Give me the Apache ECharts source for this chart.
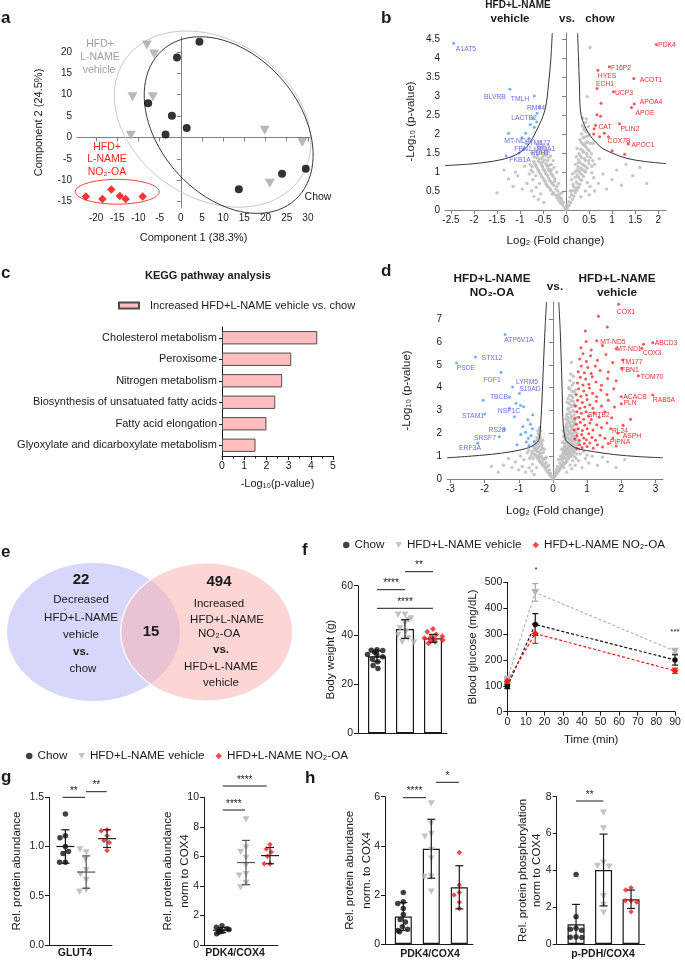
<!DOCTYPE html>
<html><head><meta charset="utf-8"><title>Figure</title>
<script src="https://cdn.jsdelivr.net/npm/echarts@6.0.0/dist/echarts.min.js"></script>
<style>html,body{margin:0;padding:0;background:#fff;}#chart{width:685px;height:962px;}</style>
</head><body><div id="chart"></div>
<script>
// ================= DATA =================
// a: PCA scores [component1, component2]
const pcaChow = [[4.4,22.4],[-0.9,18.7],[-7.7,8.0],[-2.1,5.1],[1.4,2.2],[-3.6,0.7],[13.7,-12.1],[23.9,-8.5],[29.5,-7.3]];
const pcaVehicle = [[-8.0,21.6],[-6.3,19.5],[-11.4,9.5],[-6.6,9.5],[-11.8,0.5],[19.8,1.7],[28.7,-1.2],[21.0,-10.7]];
const pcaNO2 = [[-22.4,-13.8],[-18.5,-14.4],[-16.4,-12.2],[-14.4,-13.7],[-13.0,-14.4],[-9.0,-13.8]];
// group ellipses [centre c1, centre c2, semi-axis a, semi-axis b, angle deg] (vehicle, chow, NO2-OA)
const pcaEllipses = [[7.5,4.3,24.9,18.5,-33],[11.3,2.9,23.5,16.5,-48],[-15.0,-12.7,9.9,2.9,0]];
const pcaXTicks = [-20,-15,-10,-5,0,5,10,15,20,25,30];
const pcaYTicks = [-15,-10,-5,0,5,10,15,20];

// b: volcano vehicle vs chow [log2 FC, -log10 p]
const bGray = [[0,0],[0.03,0.06],[-0.04,0.08],[0.07,0.12],[-0.08,0.14],[0.1,0.2],[-0.12,0.18],[-0.16,0.25],[0.14,0.28],[-0.2,0.32],[0.17,0.36],[-0.24,0.4],[0.2,0.45],[-0.28,0.46],[-0.14,0.42],[0.24,0.52],[-0.33,0.52],[-0.22,0.55],[0.27,0.6],[-0.38,0.6],[-0.27,0.65],[0.16,0.62],[0.3,0.68],[-0.43,0.68],[-0.33,0.74],[0.22,0.74],[0.34,0.78],[-0.48,0.78],[-0.38,0.84],[-0.25,0.82],[0.27,0.86],[0.38,0.88],[-0.53,0.88],[-0.43,0.94],[-0.3,0.92],[0.31,0.96],[0.42,1.0],[-0.58,0.98],[-0.47,1.04],[-0.35,1.02],[0.2,1.0],[0.35,1.06],[0.46,1.1],[-0.62,1.08],[-0.51,1.14],[-0.4,1.12],[0.26,1.14],[0.38,1.18],[0.5,1.22],[-0.66,1.18],[-0.55,1.24],[-0.44,1.22],[-0.32,1.2],[0.3,1.26],[0.42,1.3],[-0.7,1.28],[-0.58,1.34],[-0.47,1.32],[0.34,1.38],[0.46,1.42],[-0.62,1.44],[-0.5,1.42],[-0.38,1.38],[0.28,1.48],[0.38,1.52],[0.5,1.56],[-0.66,1.54],[-0.54,1.52],[-0.43,1.5],[0.32,1.6],[0.43,1.66],[-0.58,1.62],[-0.47,1.62],[0.36,1.74],[0.46,1.8],[-0.62,1.72],[-0.5,1.72],[0.3,1.85],[0.4,1.92],[-0.55,1.8],[0.34,2.0],[0.44,2.06],[0.38,2.16],[0.42,2.3],[0.36,2.42],[0.46,2.98],[0.52,4.28],[-0.75,0.5],[-0.85,0.7],[-0.95,0.55],[-1.05,0.9],[-1.15,0.62],[-0.8,0.95],[-0.9,1.15],[-1.25,0.82],[-1.35,1.05],[-1.1,1.0],[-1.5,0.45],[-0.7,0.36],[-0.6,0.28],[-0.48,0.2],[0.32,0.35],[0.42,0.5],[0.52,0.62],[0.6,0.85],[0.7,0.7],[0.8,0.95],[0.88,0.55],[1.0,0.8],[1.1,1.05],[1.2,0.65],[1.3,1.2],[1.45,0.9],[1.6,1.12],[1.75,0.7],[0.62,1.2],[0.72,1.35],[0.55,1.48],[0.58,1.75],[0.12,0.5],[0.08,0.34],[-0.1,0.3],[-0.18,0.5],[-0.16,0.7],[0.12,0.8],[0.14,0.95],[-0.2,1.0],[-0.26,1.12],[0.2,1.2],[-0.72,0.8],[-0.76,1.05],[-0.78,1.2],[-0.68,1.62],[0.24,1.62],[0.52,1.38],[-0.4,1.72],[0.5,0.4],[0.62,0.5],[-0.55,0.42],[-0.65,0.6],[-0.58,0.7],[0.46,0.72],[0.56,0.98],
 [-0.06,0.2],[0.06,0.22],[-0.1,0.24],[0.12,0.4],[-0.19,0.38],[-0.3,0.42],[0.22,0.58],[-0.35,0.56],[-0.41,0.64],[-0.31,0.7],[0.25,0.7],[0.31,0.8],[-0.45,0.74],[-0.36,0.78],[-0.5,0.84],[-0.4,0.9],[0.24,0.92],[0.35,0.92],[-0.55,0.94],[-0.45,0.98],[-0.33,0.96],[0.28,1.02],[0.39,1.04],[-0.6,1.04],[-0.5,1.08],[-0.38,1.06],[0.32,1.1],[0.43,1.14],[-0.64,1.13],[-0.53,1.18],[-0.42,1.17],[0.35,1.2],[-0.68,1.22],[-0.6,1.28],[-0.5,1.27],[-0.4,1.3],[0.27,1.32],[0.4,1.35],[0.49,1.3],[-0.64,1.38],[-0.53,1.36],[-0.44,1.44],[0.31,1.42],[0.44,1.48],[-0.6,1.5],[-0.48,1.48],[0.36,1.56],[0.47,1.6],[-0.56,1.58],[-0.45,1.56],[0.39,1.7],[-0.6,1.66],[-0.52,1.66],[0.33,1.78],[0.43,1.76],[-0.57,1.76],[0.37,1.9],[0.46,1.94],[0.4,2.1],[0.35,2.22],[0.44,2.4],[-0.2,0.62],[-0.25,0.75],[0.18,0.52],[0.15,0.68],[-0.28,0.88],[0.2,0.86],[-0.32,1.06],[0.24,1.06],[-0.36,1.18],[-0.28,1.3],[-0.34,1.42],[-0.38,1.54],[0.26,1.24],[0.22,1.4],[-0.02,0.03],[0.02,0.13],[-0.14,0.33],[-0.09,0.45],[0.09,0.5],[-0.66,0.9],[-0.72,1.0],[-0.74,1.14],[-0.7,1.4],[-0.74,1.5],[0.56,1.15],[0.58,1.3],[0.52,1.75],[0.5,1.98],[0.48,2.2]];
const bBlue = [[-2.44,4.39],[-1.22,3.18],[-0.69,3.0],[-0.58,2.72],[-0.63,2.55],[-0.72,2.42],[-0.64,2.32],[-0.78,2.25],[-0.69,2.18],[-1.25,2.02],[-0.96,1.9],[-0.8,1.88],[-0.86,1.75],[-0.92,1.6],[-1.02,1.5],[-1.3,1.42],[-0.88,2.02]];
const bRed = [[1.96,4.36],[0.94,3.77],[0.69,3.68],[1.47,3.46],[0.67,3.2],[1.03,3.11],[0.76,2.81],[1.48,2.79],[1.42,2.7],[0.67,2.51],[0.75,2.47],[1.16,2.27],[0.64,2.23],[0.61,2.14],[0.83,2.02],[0.6,2.0],[0.73,1.93],[0.92,1.93],[1.35,1.74],[1.0,1.56],[1.27,1.47]];
const bCurveL = [[-2.63,1.17],[-2.0,1.22],[-1.43,1.32],[-1.1,1.45],[-0.85,1.67],[-0.64,2.1],[-0.46,2.63],[-0.38,3.33],[-0.33,4.0],[-0.30,4.66]];
const bCurveR = [[0.25,4.66],[0.27,4.0],[0.29,3.3],[0.31,2.63],[0.45,2.1],[0.74,1.67],[1.0,1.5],[1.32,1.36],[1.7,1.28],[2.17,1.22]];
const bXTicks = [-2.5,-2,-1.5,-1,-0.5,0,0.5,1,1.5,2];
const bYTicks = [0,0.5,1,1.5,2,2.5,3,3.5,4,4.5];

// c: KEGG
const keggTerms = ['Cholesterol metabolism','Peroxisome','Nitrogen metabolism','Biosynthesis of unsatuated fatty acids','Fatty acid elongation','Glyoxylate and dicarboxylate metabolism'];
const keggValues = [4.29,3.12,2.71,2.4,2.0,1.51];

// d: volcano NO2-OA vs vehicle
const dGray = [[0,0],[0.04,0.08],[-0.05,0.1],[0.08,0.16],[-0.09,0.18],[0.12,0.24],[-0.13,0.26],[0.16,0.32],[-0.17,0.34],[0.2,0.4],[-0.21,0.42],[0.1,0.42],[-0.1,0.4],[0.24,0.5],[-0.25,0.52],[0.14,0.55],[-0.15,0.55],[0.28,0.6],[-0.3,0.6],[0.34,0.68],[-0.35,0.7],[0.2,0.7],[-0.2,0.72],[0.4,0.78],[-0.4,0.8],[0.27,0.82],[-0.27,0.85],[0.46,0.88],[-0.45,0.9],[0.33,0.95],[-0.33,0.98],[0.52,0.98],[-0.5,1.0],[0.22,1.0],[0.4,1.06],[-0.4,1.08],[0.58,1.08],[-0.55,1.1],[0.3,1.14],[-0.28,1.16],[0.47,1.16],[-0.46,1.2],[0.64,1.2],[-0.6,1.22],[0.36,1.24],[-0.35,1.28],[0.54,1.28],[-0.52,1.32],[0.7,1.32],[0.42,1.34],[-0.42,1.4],[0.6,1.4],[-0.58,1.44],[0.33,1.44],[0.48,1.46],[-0.32,1.5],[0.68,1.5],[-0.48,1.54],[0.4,1.56],[0.56,1.6],[-0.4,1.64],[0.74,1.62],[-0.54,1.66],[0.35,1.7],[0.5,1.72],[-0.36,1.78],[0.64,1.76],[-0.47,1.82],[0.42,1.84],[0.58,1.9],[-0.4,1.94],[0.36,1.98],[0.5,2.02],[-0.44,2.1],[0.66,2.08],[0.42,2.16],[0.56,2.22],[-0.38,2.26],[0.38,2.32],[0.5,2.4],[0.62,2.46],[0.44,2.56],[0.56,2.66],[0.4,2.76],[0.5,2.86],[0.62,2.94],[0.44,3.04],[0.56,3.16],[0.48,3.3],[0.6,3.4],[0.44,3.52],[0.54,3.66],[0.62,3.8],[0.48,3.94],[0.56,4.1],[0.5,4.3],[0.6,4.5],[0.54,5.1],[-0.8,0.3],[-0.9,0.55],[-1.0,0.4],[-1.1,0.75],[-1.2,0.5],[-0.85,0.85],[-0.95,1.0],[-1.3,0.9],[-1.45,0.6],[-1.6,0.3],[-1.8,0.55],[-0.7,0.5],[-0.62,0.35],[-0.55,0.2],[-0.68,0.9],[-0.75,1.15],[0.4,0.3],[0.55,0.45],[0.65,0.6],[0.75,0.8],[0.85,0.5],[0.95,0.9],[1.05,0.7],[1.15,1.0],[1.3,0.6],[1.45,0.95],[1.6,0.75],[1.85,0.5],[2.1,0.85],[0.8,1.1],[0.9,1.2],[1.0,1.05],[0.32,0.5],[-0.08,0.25],[0.06,0.28],[-0.12,0.6],[0.16,0.85],[-0.2,0.95],[0.26,1.3],[-0.25,1.3],[0.28,1.6],[-0.3,1.7],[0.3,2.1],[0.7,1.8],[0.72,2.2],[0.7,2.7],[0.68,3.2],[0.66,3.9],[0.3,1.85],[-0.6,0.65],[-0.48,0.5],[0.5,0.62],[0.58,0.8],
 [-0.06,0.16],[-0.14,0.3],[-0.2,0.5],[-0.24,0.64],[-0.31,0.72],[-0.38,0.76],[-0.22,0.9],[-0.3,0.88],[-0.38,0.94],[-0.44,1.0],[-0.52,1.06],[-0.35,1.12],[-0.42,1.2],[-0.5,1.26],[-0.3,1.36],[-0.46,1.34],[-0.55,1.36],[-0.36,1.44],[-0.5,1.46],[-0.42,1.56],[-0.34,1.6],[-0.45,1.72],[-0.38,1.86],[-0.43,1.98],[-0.36,2.1],[-0.4,2.2],[-0.58,0.9],[-0.64,1.0],[-0.62,1.12],[-0.7,1.26],
 [0.06,0.18],[0.14,0.34],[0.18,0.48],[0.24,0.62],[0.3,0.7],[0.38,0.72],[0.22,0.88],[0.3,0.9],[0.37,0.9],[0.44,0.96],[0.5,1.04],[0.28,1.05],[0.35,1.1],[0.43,1.12],[0.52,1.14],[0.6,1.16],[0.32,1.2],[0.4,1.2],[0.48,1.24],[0.58,1.26],[0.66,1.28],[0.3,1.32],[0.38,1.3],[0.46,1.36],[0.54,1.38],[0.62,1.34],[0.36,1.42],[0.44,1.44],[0.52,1.5],[0.6,1.52],[0.34,1.56],[0.42,1.62],[0.5,1.62],[0.58,1.7],[0.66,1.66],[0.38,1.76],[0.46,1.78],[0.54,1.82],[0.62,1.86],[0.34,1.9],[0.44,1.94],[0.52,1.96],[0.6,2.0],[0.38,2.06],[0.46,2.1],[0.54,2.14],[0.62,2.18],[0.36,2.22],[0.44,2.28],[0.52,2.3],[0.6,2.34],[0.4,2.42],[0.48,2.48],[0.56,2.52],[0.64,2.58],[0.38,2.62],[0.46,2.68],[0.54,2.74],[0.62,2.8],[0.42,2.86],[0.5,2.94],[0.58,3.0],[0.46,3.1],[0.54,3.22],[0.62,3.26],[0.42,3.36],[0.52,3.44],[0.58,3.56],[0.48,3.66],[0.56,3.84],[0.46,4.0],[0.6,4.2],[0.52,4.6],[0.68,2.4],[0.7,2.0],[0.72,1.5],[0.76,1.3],[0.7,1.1],[0.62,0.98],[0.68,0.9]];
const dBlue = [[-1.4,6.33],[-2.27,5.34],[-2.82,5.08],[-1.52,4.67],[-1.18,4.03],[-0.98,3.74],[-1.27,3.59],[-2.04,3.45],[-2.0,2.85],[-1.27,3.1],[-1.42,2.18],[-1.57,1.85],[-2.2,1.57],[-1.08,3.32],[-0.95,3.22],[-0.86,3.16],[-1.13,2.73],[-0.74,2.59],[-0.88,2.3],[-0.64,1.9],[-0.94,1.95],[-0.72,1.78],[-0.8,2.05],[-0.6,2.2],[-0.55,1.62],[-1.05,1.5],[-0.7,1.47],[-0.59,2.81],[-0.78,1.62],[-0.66,2.4]];
const dRed = [[1.92,7.65],[1.33,7.13],[1.59,6.66],[0.95,6.48],[1.28,6.05],[2.92,5.97],[2.65,5.9],[2.6,5.72],[2.04,5.21],[2.01,4.85],[2.5,4.52],[2.0,3.6],[2.92,3.68],[2.0,3.3],[2.27,2.62],[1.69,2.2],[1.9,2.0],[1.75,1.8],
 [0.7,1.35],[0.78,1.5],[0.85,1.38],[0.92,1.55],[1.0,1.42],[1.08,1.58],[1.18,1.35],[1.3,1.5],[1.45,1.4],[1.62,1.55],[1.85,1.45],
 [0.64,1.75],[0.7,1.9],[0.77,1.7],[0.84,1.95],[0.9,1.8],[0.98,1.72],[1.05,1.98],[1.14,1.82],[1.25,1.7],[1.38,1.92],[1.52,1.78],
 [0.62,2.15],[0.68,2.4],[0.74,2.2],[0.8,2.48],[0.86,2.12],[0.93,2.35],[1.0,2.2],[1.08,2.45],[1.17,2.15],[1.28,2.38],[1.42,2.25],[1.58,2.45],[2.05,2.35],
 [0.64,2.65],[0.7,2.95],[0.76,2.7],[0.83,2.88],[0.9,2.62],[0.97,2.95],[1.04,2.75],[1.12,2.6],[1.2,2.9],[1.35,2.7],[1.52,2.95],[1.72,2.68],
 [0.65,3.2],[0.72,3.45],[0.79,3.1],[0.86,3.35],[0.93,3.15],[1.0,3.48],[1.08,3.25],[1.17,3.1],[1.27,3.4],[1.42,3.2],[1.62,3.45],[1.8,3.15],
 [0.68,3.7],[0.75,3.95],[0.82,3.62],[0.9,3.85],[0.98,3.68],[1.07,3.98],[1.16,3.75],[1.28,3.6],[1.4,3.9],[1.58,3.7],[1.78,3.95],
 [0.72,4.2],[0.8,4.45],[0.88,4.12],[0.96,4.38],[1.05,4.15],[1.15,4.48],[1.26,4.25],[1.42,4.1],[1.6,4.4],[1.85,4.3],
 [0.74,4.7],[0.83,4.95],[0.92,4.65],[1.02,4.88],[1.12,4.62],[1.24,4.95],[1.38,4.75],[1.62,4.68],
 [0.78,5.25],[0.88,5.48],[0.98,5.15],[1.1,5.4],[1.3,5.2],[1.55,5.45],[1.75,5.1],
 [0.82,5.75],[0.97,6.02],[1.12,5.65],[1.45,5.85],[1.85,5.7]];
const dCurveL = [[-3.1,0.93],[-2.5,0.99],[-1.8,1.08],[-1.2,1.2],[-0.8,1.33],[-0.64,1.42],[-0.5,1.56],[-0.41,1.72],[-0.36,2.37],[-0.31,3.83],[-0.27,5.3],[-0.23,6.6],[-0.19,7.75]];
const dCurveR = [[0.17,7.75],[0.21,6.6],[0.24,5.3],[0.27,3.83],[0.3,2.37],[0.37,1.72],[0.47,1.56],[0.59,1.42],[0.8,1.3],[1.18,1.2],[1.8,1.07],[2.5,0.98],[3.22,0.93]];
const dXTicks = [-3,-2,-1,0,1,2,3];
const dYTicks = [0,1,2,3,4,5,6,7];

// e: Venn counts
const vennCounts = {decreased: 22, overlap: 15, increased: 494};

// f: body weight and GTT
const groupNames = ['Chow','HFD+L-NAME vehicle','HFD+L-NAME NO\u2082-OA'];
const bwChow = [34.0,33.8,33.7,33.2,32.9,32.0,31.5,31.1,30.1,29.1,27.6,26.3];
const bwVehicle = [48.2,48.2,46.7,46.0,44.7,42.7,41.3,40.0,38.6,37.2,37.0];
const bwNO2 = [42.4,41.3,40.2,39.5,39.0,38.6,38.3,38.0,37.9,37.2,36.6];
const bwMean = [31.3,42.4,38.6];
const bwSD = [2.2,3.8,1.6];
const gttTime = [0,15,90];
const gttChow = [97,337,200], gttChowSD = [8,42,20];
const gttVehicle = [125,461,234], gttVehicleSD = [10,34,8];
const gttNO2 = [118,302,158], gttNO2SD = [8,38,10];

// g: GLUT4 and PDK4/COX4 (dot plots, mean ± SD)
const glutChow = [1.33,1.11,1.09,1.0,0.95,0.93,0.84,0.84];
const glutVehicle = [0.94,0.97,0.87,0.76,0.72,0.66,0.56,0.54];
const glutNO2 = [1.17,1.16,1.11,1.06,1.04,0.96];
const glutMean = [1.0,0.74,1.08], glutSD = [0.17,0.165,0.09];
const pdkGChow = [1.3,1.2,1.1,1.05,1.0,0.95,0.9,0.85,0.75];
const pdkGVehicle = [8.5,6.6,6.3,5.9,5.4,4.8,4.7,4.2,3.9];
const pdkGNO2 = [6.8,6.5,6.3,6.0,5.5,5.5];
const pdkGMean = [1.0,5.58,6.05], pdkGSD = [0.17,1.5,0.55];

// h: PDK4/COX4 and p-PDH/COX4 (bars, mean ± SD)
const pdkHChow = [2.1,1.72,1.65,1.45,1.2,1.0,0.9,0.7,0.6,0.55,0.5];
const pdkHVehicle = [5.73,4.9,4.48,4.37,3.83,3.49,2.74,2.74,2.13];
const pdkHNO2 = [3.73,2.4,2.1,2.0,1.7,1.45];
const pdkHMean = [1.12,3.88,2.31], pdkHSD = [0.57,1.2,0.88];
const pdhChow = [3.78,1.48,0.85,0.8,0.75,0.38,0.36,0.35];
const pdhVehicle = [7.13,6.28,4.42,4.24,4.2,2.6,2.12,1.7];
const pdhNO2 = [3.05,2.93,2.35,2.35,2.28,1.75];
const pdhMean = [1.07,4.02,2.43], pdhSD = [1.08,1.95,0.5];

// ================= STYLE / LAYOUT =================
const FONT = '"Liberation Sans", Arial, Helvetica, sans-serif';
const INK = '#1a1a1a';
const GREYAX = '#808080';
const C_CHOW = '#111111', C_VEH = '#b4b4b4', C_NO2 = '#ff1a1a';
const TRI = 'path://M0,0L10,0L5,9Z';

function m(base, over){
  const out = Object.assign({}, base);
  for (const k in over){
    const v = over[k];
    if (v && typeof v === 'object' && !Array.isArray(v) && base[k] && typeof base[k] === 'object' && !Array.isArray(base[k])) out[k] = m(base[k], v);
    else out[k] = v;
  }
  return out;
}
const AXB = {
  nameMoveOverlap:false,
  axisLine:{show:true, lineStyle:{color:INK, width:1}},
  axisTick:{show:true, length:4, inside:false, lineStyle:{color:INK, width:1}},
  axisLabel:{show:true, color:INK, fontSize:10.5, fontFamily:FONT, margin:5},
  splitLine:{show:false},
  nameTextStyle:{color:INK, fontSize:11.5, fontFamily:FONT}
};
const AX = o => m(AXB, o);
const grids = [], xAxes = [], yAxes = [], series = [];
const addGrid = g => (grids.push(g), grids.length - 1);
const addX = a => (xAxes.push(a), xAxes.length - 1);
const addY = a => (yAxes.push(a), yAxes.length - 1);

function scat(name, data, xi, yi, symbol, size, color, extra){
  return m({type:'scatter', name, data, xAxisIndex:xi, yAxisIndex:yi, symbol, symbolSize:size,
    itemStyle:{color}, silent:true, z:4, animation:false}, extra || {});
}
function errSeries(xi, yi, rows, opt){
  return {type:'custom', xAxisIndex:xi, yAxisIndex:yi, data:rows, z:opt.z || 3, silent:true, clip:false,
    renderItem:(params, api) => {
      const x = api.value(0), mu = api.value(1), sd = api.value(2);
      const c = api.coord([x, mu]), t = api.coord([x, mu + sd]), b = api.coord([x, mu - sd]);
      const col = opt.colors[params.dataIndex % opt.colors.length];
      const st = () => ({stroke:col, lineWidth:opt.lw || 1.2});
      const h = opt.capW / 2;
      const ch = [
        {type:'line', shape:{x1:c[0], y1:t[1], x2:c[0], y2:b[1]}, style:st()},
        {type:'line', shape:{x1:c[0]-h, y1:t[1], x2:c[0]+h, y2:t[1]}, style:st()},
        {type:'line', shape:{x1:c[0]-h, y1:b[1], x2:c[0]+h, y2:b[1]}, style:st()}
      ];
      if (opt.meanW) ch.push({type:'line', shape:{x1:c[0]-opt.meanW/2, y1:c[1], x2:c[0]+opt.meanW/2, y2:c[1]}, style:st()});
      return {type:'group', children:ch};
    }};
}
const rows3 = (means, sds) => means.map((v, i) => [i, v, sds[i]]);
const idx = (arr, i) => arr.map(v => [i, v]);

// ---------- panel a ----------
{
  const g = addGrid({left:77, top:37, width:233, height:171});
  const xi = addX(AX({type:'value', gridIndex:g, min:-24.5, max:30.5,
    axisLine:{lineStyle:{color:GREYAX}}, axisTick:{customValues:pcaXTicks, lineStyle:{color:GREYAX}},
    axisLabel:{customValues:pcaXTicks, fontSize:10},
    name:'Component 1 (38.3%)', nameLocation:'middle', nameGap:24, nameTextStyle:{fontSize:11}}));
  const yi = addY(AX({type:'value', gridIndex:g, min:-16.5, max:23.5,
    axisLine:{lineStyle:{color:GREYAX}}, axisTick:{customValues:pcaYTicks, lineStyle:{color:GREYAX}},
    axisLabel:{customValues:pcaYTicks, fontSize:10},
    name:'Component 2 (24.5%)', nameLocation:'middle', nameGap:33, nameRotate:90, nameTextStyle:{fontSize:11}}));
  const ellColors = ['#c8c8c8', '#3a3a3a', '#ff3a3a'];
  series.push({type:'custom', xAxisIndex:xi, yAxisIndex:yi, data:pcaEllipses, silent:true, clip:false, z:1,
    renderItem:(params, api) => {
      const cx = api.value(0), cy = api.value(1), a = api.value(2), b = api.value(3), th = api.value(4) * Math.PI / 180;
      const pts = [];
      for (let k = 0; k <= 90; k++){
        const t = k / 90 * 2 * Math.PI, ex = a * Math.cos(t), ey = b * Math.sin(t);
        pts.push(api.coord([cx + ex*Math.cos(th) - ey*Math.sin(th), cy + ex*Math.sin(th) + ey*Math.cos(th)]));
      }
      return {type:'polygon', shape:{points:pts}, style:{fill:'none', stroke:ellColors[params.dataIndex], lineWidth:1}};
    }});
  series.push(scat('pcaChow', pcaChow, xi, yi, 'circle', 8, '#000'));
  series.push(scat('pcaVeh', pcaVehicle, xi, yi, TRI, [10,9], '#a6a6a6'));
  series.push(scat('pcaNO2', pcaNO2, xi, yi, 'diamond', 8.5, '#ff0000'));
}

// ---------- volcano helper ----------
function volcano(grid, xr, xTicks, yr, yTicks, gray, blue, red, cl, cr, names){
  const g = addGrid(grid);
  const xi = addX(AX({type:'value', gridIndex:g, min:xr[0], max:xr[1],
    axisLine:{lineStyle:{color:GREYAX}}, axisTick:{customValues:xTicks, lineStyle:{color:GREYAX}},
    axisLabel:{customValues:xTicks, fontSize:10},
    name:'Log\u2082 (Fold change)', nameLocation:'middle', nameGap:names.xg, nameTextStyle:{fontSize:11.5}}));
  const yi = addY(AX({type:'value', gridIndex:g, min:yr[0], max:yr[1],
    axisLine:{lineStyle:{color:GREYAX}}, axisTick:{customValues:yTicks, lineStyle:{color:GREYAX}},
    axisLabel:{customValues:yTicks, fontSize:10},
    name:'-Log\u2081\u2080 (p-value)', nameLocation:'middle', nameGap:names.yg, nameRotate:90, nameTextStyle:{fontSize:11.5}}));
  series.push(scat('gray', gray, xi, yi, 'circle', 3.4, '#bdbdbd', {itemStyle:{opacity:0.85}, z:2}));
  series.push(scat('blue', blue, xi, yi, 'circle', 3, '#4aa0f5', {z:3}));
  series.push(scat('red', red, xi, yi, 'circle', 3, '#ff2a2a', {z:3}));
  [cl, cr].forEach(c => series.push({type:'line', xAxisIndex:xi, yAxisIndex:yi, data:c, smooth:0.35,
    showSymbol:false, silent:true, z:5, lineStyle:{color:'#333', width:1}, animation:false}));
}
volcano({left:445, top:33, width:221, height:177}, [-2.63,2.17], bXTicks, [0,4.66], bYTicks,
  bGray, bBlue, bRed, bCurveL, bCurveR, {xg:25, yg:28});

// ---------- panel c ----------
{
  const g = addGrid({left:222, top:327, width:111, height:129});
  const xi = addX(AX({type:'value', gridIndex:g, min:0, max:5, interval:1,
    minorTick:{show:true, splitNumber:2, length:2.5, lineStyle:{color:INK}},
    name:'-Log\u2081\u2080(p-value)', nameLocation:'middle', nameGap:22, nameTextStyle:{fontSize:11}}));
  const yi = addY(AX({type:'category', gridIndex:g, data:keggTerms, inverse:true,
    axisTick:{alignWithLabel:true, length:3}, axisLabel:{fontSize:11, margin:5}}));
  series.push({type:'bar', name:'Increased HFD+L-NAME vehicle vs. chow', xAxisIndex:xi, yAxisIndex:yi,
    data:keggValues, barCategoryGap:'38%', silent:true, animation:false,
    itemStyle:{color:'#ffbdbd', borderColor:'#4d4d4d', borderWidth:1}});
}

// ---------- panel d ----------
volcano({left:447, top:302, width:216, height:177}, [-3.1,3.22], dXTicks, [0,7.75], dYTicks,
  dGray, dBlue, dRed, dCurveL, dCurveR, {xg:26, yg:34});

// ---------- dot / bar panels helper ----------
function framePanel(frame, dataGrid, yr, yInt, yName, yGap, yFmt, lh){
  const fg = addGrid(frame);
  addX({type:'value', gridIndex:fg, min:0, max:1, axisLine:{show:true, lineStyle:{color:INK, width:1}},
    axisTick:{show:false}, axisLabel:{show:false}, splitLine:{show:false}});
  addY(AX({type:'value', gridIndex:fg, min:yr[0], max:yr[1], interval:yInt,
    axisLabel:{fontSize:10.5, formatter: yFmt || (v => String(v))},
    name:yName, nameLocation:'middle', nameGap:yGap, nameRotate:90,
    nameTextStyle:{fontSize:11.5, lineHeight:lh || 15}}));
  const dg = addGrid(dataGrid);
  const xi = addX({type:'category', gridIndex:dg, data:[0,1,2], show:false, boundaryGap:true,
    jitter:dataGrid.jit, jitterOverlap:false, jitterMargin:0.3});
  const yi = addY({type:'value', gridIndex:dg, min:yr[0], max:yr[1], show:false});
  return {xi, yi};
}
function groupDots(ax, vals, sizes){
  series.push(scat(groupNames[0], idx(vals[0], 0), ax.xi, ax.yi, 'circle', sizes[0], C_CHOW));
  series.push(scat(groupNames[1], idx(vals[1], 1), ax.xi, ax.yi, TRI, sizes[1], C_VEH));
  series.push(scat(groupNames[2], idx(vals[2], 2), ax.xi, ax.yi, 'diamond', sizes[2], C_NO2));
}
function whiteBars(ax, means, w){
  series.push({type:'bar', xAxisIndex:ax.xi, yAxisIndex:ax.yi, data:means, barWidth:w, silent:true, z:1,
    animation:false, itemStyle:{color:'#fff', borderColor:INK, borderWidth:1.2}});
}

// ---------- panel f: body weight ----------
{
  const ax = framePanel({left:358, top:585.7, width:89, height:147.6},
    {left:363, top:585.7, width:84, height:147.6, jit:20}, [0,60], 20, 'Body weight (g)', 20);
  whiteBars(ax, bwMean, 18);
  series.push(errSeries(ax.xi, ax.yi, rows3(bwMean, bwSD), {capW:8, colors:[INK], lw:1.2, z:5}));
  groupDots(ax, [bwChow, bwVehicle, bwNO2], [5.5, [7,6.3], 6]);
}
// ---------- panel f: GTT ----------
{
  const g = addGrid({left:507.3, top:582.3, width:167.7, height:129.4});
  const xi = addX(AX({type:'value', gridIndex:g, min:0, max:90, interval:10,
    name:'Time (min)', nameLocation:'middle', nameGap:22}));
  const yi = addY(AX({type:'value', gridIndex:g, min:0, max:500, interval:100,
    name:'Blood glucose (mg/dL)', nameLocation:'middle', nameGap:28, nameRotate:90}));
  const lines = [[gttChow, gttChowSD, C_CHOW, 'circle', 5.5, '#111'], [gttVehicle, gttVehicleSD, C_VEH, TRI, [8,7], '#a8a8a8'], [gttNO2, gttNO2SD, C_NO2, 'diamond', 7, '#ff1a1a']];
  lines.forEach((L, k) => {
    series.push({type:'line', name:groupNames[k], xAxisIndex:xi, yAxisIndex:yi, data:gttTime.map((t, i) => [t, L[0][i]]),
      symbol:L[3], symbolSize:L[4], showSymbol:true, clip:false, silent:true, animation:false, z:4,
      itemStyle:{color:L[2]}, lineStyle:{color:L[2], width:1.2, type:[3,2]}});
    series.push(errSeries(xi, yi, gttTime.map((t, i) => [t, L[0][i], L[1][i]]), {capW:6, colors:[L[5]], lw:1.2, z:3}));
  });
}
// ---------- panel g ----------
{
  const ax = framePanel({left:49, top:797.3, width:63, height:147.6},
    {left:55, top:797.3, width:62.4, height:147.6, jit:17}, [0,1.5], 0.5, 'Rel. protein abundance', 25, v => v.toFixed(1));
  groupDots(ax, [glutChow, glutVehicle, glutNO2], [5.5, [7,6.3], 5.5]);
  series.push(errSeries(ax.xi, ax.yi, rows3(glutMean, glutSD), {capW:8, meanW:18, colors:['#111','#555','#222'], lw:1.2, z:6}));
}
{
  const ax = framePanel({left:204, top:797.3, width:74, height:147.6},
    {left:210, top:797.3, width:72, height:147.6, jit:16}, [0,10], 2, 'Rel. protein abundance\nnorm to COX4', 10.5, null, 17);
  groupDots(ax, [pdkGChow, pdkGVehicle, pdkGNO2], [5.5, [7,6.3], 5.5]);
  series.push(errSeries(ax.xi, ax.yi, rows3(pdkGMean, pdkGSD), {capW:8, meanW:18, colors:['#111','#555','#222'], lw:1.2, z:6}));
}
// ---------- panel h ----------
{
  const ax = framePanel({left:385, top:796.7, width:88, height:147.3},
    {left:389.3, top:796.7, width:84, height:147.3, jit:16}, [0,6], 2, 'Rel. protein abundance\nnorm. to COX4', 10, null, 16.7);
  whiteBars(ax, pdkHMean, 17);
  series.push(errSeries(ax.xi, ax.yi, rows3(pdkHMean, pdkHSD), {capW:8, colors:[INK], lw:1.2, z:5}));
  groupDots(ax, [pdkHChow, pdkHVehicle, pdkHNO2], [5.5, [7,6.3], 5.5]);
}
{
  const ax = framePanel({left:556.7, top:796.7, width:88, height:147.3},
    {left:562.3, top:796.7, width:82.5, height:147.3, jit:16}, [0,8], 2, 'Rel. protein phosphorylation\nnorm to COX4', 13, null, 14);
  whiteBars(ax, pdhMean, 17);
  series.push(errSeries(ax.xi, ax.yi, rows3(pdhMean, pdhSD), {capW:8, colors:[INK], lw:1.2, z:5}));
  groupDots(ax, [pdhChow, pdhVehicle, pdhNO2], [5.5, [7,6.3], 5.5]);
}

// ---------- annotations (graphic) ----------
function T(x, y, text, o){
  o = o || {};
  return {type:'text', x, y, silent:true, z:100, style:{text, fill:o.c || INK,
    font:(o.b ? 'bold ' : '') + (o.s || 11.5) + 'px ' + FONT, align:o.a || 'center', verticalAlign:o.v || 'middle'}};
}
function Ln(x1, x2, y){ return {type:'line', silent:true, z:100, shape:{x1, y1:y, x2, y2:y}, style:{stroke:INK, lineWidth:1}}; }
function Sig(x1, x2, y, stars){ return [Ln(x1, x2, y), T((x1 + x2) / 2, y - 1, stars, {s:10, v:'bottom'})]; }

const G = [];
[['a',1,18],['b',381,18],['c',1,273],['d',381,271],['e',1,552],['f',302,550],['g',1,777],['h',305,778]]
  .forEach(p => G.push(T(p[1], p[2], p[0], {b:true, s:17, a:'left'})));
G.push(T(100,44,'HFD+',{s:10.5,c:'#a0a0a0'}), T(100,57,'L-NAME',{s:10.5,c:'#a0a0a0'}), T(99,70,'vehicle',{s:10.5,c:'#a0a0a0'}));
G.push(T(107,147,'HFD+',{s:10.5,c:'#ff2020'}), T(107,159.5,'L-NAME',{s:10.5,c:'#ff2020'}), T(107,172,'NO\u2082-OA',{s:10.5,c:'#ff2020'}));
G.push(T(318,197,'Chow',{s:10.5}));
G.push(T(518,5,'HFD+L-NAME',{b:true,s:10}), T(510,19,'vehicle',{b:true,s:11.5}), T(567,19,'vs.',{b:true,s:11.5}), T(600,19,'chow',{b:true,s:11.5}));
const BL = '#6a6aee', RL = '#ff2a2a';
[['A1AT5',466,49.5],['BLVRB',495,97],['TMLH',520,99],['RM44',536,108],['LACTB2',524,118],['MT-ND4',517,141],['TM177',540,143],['FBN1',523,149],['ROA1',546,149],['BDH1',540,153.5],['FKB1A',520,160]]
  .forEach(p => G.push(T(p[1], p[2], p[0], {s:6.8, c:BL})));
[['PDK4',667,45],['F16P2',621,68],['HYES',607,76],['ACOT1',651,80],['ECH1',605,84],['UCP3',624,93.5],['APOA4',651,102.5],['APOE',645,113],['CAT',605,127],['PLIN2',630,129],['COX7B',619,141.5],['APOC1',643,145.5]]
  .forEach(p => G.push(T(p[1], p[2], p[0], {s:6.8, c:RL})));
G.push(T(208,276,'KEGG pathway analysis',{b:true,s:11}));
G.push(T(492,279,'HFD+L-NAME',{b:true,s:11.8}), T(492,293,'NO\u2082-OA',{b:true,s:11.8}), T(555,287,'vs.',{b:true,s:11.8}),
       T(617,279,'HFD+L-NAME',{b:true,s:11.8}), T(617,293,'vehicle',{b:true,s:11.8}));
[['ATP6V1A',519,340],['STX12',492,358],['PSDE',466,368.5],['FGF1',492,380.5],['LYRM5',527,382.5],['S10AD',530,389],['TBCB',499,397],['STAM1',473,416],['NSF1C',509,411],['RS28',497,430.5],['SRSF7',485,438.5],['ERF3A',470,448]]
  .forEach(p => G.push(T(p[1], p[2], p[0], {s:6.8, c:BL})));
[['COX1',626,312.5],['MT-ND5',613,342.5],['ABCD3',666,343.5],['MT-ND1',629,349],['COX3',652,353.5],['TM177',632,362.5],['FBN1',630,370],['TOM70',652,377.5],['ACACB',635,397],['RAB5A',664,400],['PLN',630,403.5],['SRTB2',599,415],['RL24',620,431],['ASPH',632,436],['PIPNA',620,442]]
  .forEach(p => G.push(T(p[1], p[2], p[0], {s:6.8, c:RL})));
G.push({type:'circle', silent:true, z:90, x:93.5, y:632, scaleX:86.5/69, shape:{cx:0, cy:0, r:69}, style:{fill:'#d6d7fa'}});
G.push({type:'circle', silent:true, z:91, x:206.7, y:632, scaleX:86/69, shape:{cx:0, cy:0, r:69}, style:{fill:'rgba(250,178,178,0.55)', stroke:'#fff', lineWidth:1, strokeNoScale:true}});
G.push(T(81,580,String(vennCounts.decreased),{b:true,s:15}), T(81,600,'Decreased'), T(81,617.5,'HFD+L-NAME'), T(81,634.5,'vehicle'),
       T(81,652,'vs.',{b:true}), T(83,668.5,'chow'));
G.push(T(151,632,String(vennCounts.overlap),{b:true,s:15}));
G.push(T(219,582,String(vennCounts.increased),{b:true,s:15}), T(219,603.5,'Increased'), T(227,620,'HFD+L-NAME'), T(219,633.5,'NO\u2082-OA'),
       T(221,650,'vs.',{b:true}), T(221,666.5,'HFD+L-NAME'), T(221,683,'vehicle'));
G.push(...Sig(377,405,589.7,'****'), ...Sig(377,433,608.3,'****'), ...Sig(405,433,571.7,'**'));
G.push(T(536,570,'*',{s:8}), T(675,632,'***',{s:8}));
G.push(...Sig(62.7,85,797.3,'**'), ...Sig(86,106.7,791.7,'**'));
G.push(...Sig(222.7,245,810,'****'), ...Sig(222.7,266.7,786,'****'));
G.push(...Sig(403,426,797.7,'****'), ...Sig(436,459,782.3,'*'));
G.push(...Sig(576,603.3,801,'**'));
G.push(T(75,953.5,'GLUT4',{b:true,s:10.5}), T(235,953.5,'PDK4/COX4',{b:true,s:10.5}),
       T(430,954.5,'PDK4/COX4',{b:true,s:10.5}), T(603,954.5,'p-PDH/COX4',{b:true,s:10.5}));

const legText = {color:INK, fontSize:11.7, fontFamily:FONT};
const legData = [{name:groupNames[0], icon:'circle'}, {name:groupNames[1], icon:TRI}, {name:groupNames[2], icon:'diamond'}];
const option = {
  animation:false,
  backgroundColor:'#fff',
  textStyle:{fontFamily:FONT},
  grid:grids, xAxis:xAxes, yAxis:yAxes, series,
  legend:[
    {data:['Increased HFD+L-NAME vehicle vs. chow'], left:113, top:295, itemWidth:20, itemHeight:6, icon:'rect',
      selectedMode:false, textStyle:Object.assign({}, legText, {fontSize:11, padding:[0,0,0,6]})},
    {data:legData, left:338, top:534, itemWidth:6.5, itemHeight:6.5, itemGap:11, selectedMode:false, textStyle:legText},
    {data:legData, left:21, top:745, itemWidth:6.5, itemHeight:6.5, itemGap:11, selectedMode:false, textStyle:legText}
  ],
  graphic:{elements:G}
};
const chart = echarts.init(document.getElementById('chart'));
chart.setOption(option);
</script></body></html>
